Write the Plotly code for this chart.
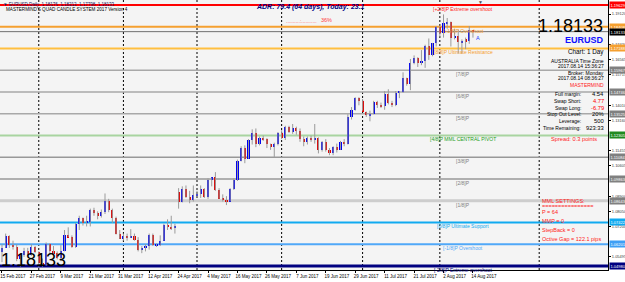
import plotly.graph_objects as go

# ---------------- data ----------------
date_labels = ["15 Feb 2017", "27 Feb 2017", "9 Mar 2017", "21 Mar 2017", "31 Mar 2017",
               "12 Apr 2017", "24 Apr 2017", "4 May 2017", "16 May 2017", "26 May 2017",
               "7 Jun 2017", "19 Jun 2017", "29 Jun 2017", "11 Jul 2017", "21 Jul 2017",
               "2 Aug 2017", "14 Aug 2017"]
label_bars = [0, 8, 16, 24, 32, 40, 48, 56, 64, 72, 80, 88, 96, 104, 112, 120, 128]
month_separator_bars = [10, 33, 53, 76, 98, 119, 146]

open_ = [1.0575, 1.0600, 1.0665, 1.0615, 1.0605, 1.0540, 1.0560, 1.0585, 1.0560, 1.0605,
         1.0575, 1.0515, 1.0505, 1.0620, 1.0580, 1.0570, 1.0545, 1.0580, 1.0670, 1.0660,
         1.0605, 1.0735, 1.0765, 1.0740, 1.0745, 1.0810, 1.0795, 1.0780, 1.0800, 1.0865,
         1.0815, 1.0765, 1.0680, 1.0650, 1.0665, 1.0660, 1.0665, 1.0645, 1.0590, 1.0600,
         1.0610, 1.0670, 1.0615, 1.0615, 1.0640, 1.0730, 1.0715, 1.0710, 1.0915, 1.0860,
         1.0930, 1.0885, 1.0870, 1.0895, 1.0900, 1.0930, 1.0885, 1.0980, 1.0995, 1.0925,
         1.0875, 1.0870, 1.0860, 1.0930, 1.0980, 1.1085, 1.1160, 1.1100, 1.1205, 1.1245,
         1.1185, 1.1215, 1.1210, 1.1180, 1.1165, 1.1185, 1.1245, 1.1215, 1.1280, 1.1250,
         1.1275, 1.1255, 1.1210, 1.1195, 1.1215, 1.1210, 1.1215, 1.1150, 1.1195, 1.1150,
         1.1135, 1.1165, 1.1150, 1.1195, 1.1180, 1.1335, 1.1375, 1.1440, 1.1425, 1.1360,
         1.1345, 1.1350, 1.1420, 1.1400, 1.1395, 1.1465, 1.1415, 1.1400, 1.1470, 1.1475,
         1.1555, 1.1520, 1.1635, 1.1665, 1.1640, 1.1650, 1.1730, 1.1680, 1.1750, 1.1840,
         1.1805, 1.1860, 1.1865, 1.1775, 1.1790, 1.1755, 1.1770, 1.1760, 1.18176]
high = [1.0620, 1.0680, 1.0670, 1.0640, 1.0620, 1.0565, 1.0600, 1.0600, 1.0620, 1.0610,
        1.0580, 1.0540, 1.0630, 1.0625, 1.0610, 1.0580, 1.0615, 1.0700, 1.0715, 1.0670,
        1.0740, 1.0780, 1.0770, 1.0780, 1.0820, 1.0825, 1.0805, 1.0815, 1.0905, 1.0875,
        1.0820, 1.0775, 1.0700, 1.0680, 1.0680, 1.0705, 1.0680, 1.0660, 1.0610, 1.0620,
        1.0680, 1.0680, 1.0625, 1.0670, 1.0735, 1.0760, 1.0780, 1.0735, 1.0935, 1.0945,
        1.0950, 1.0920, 1.0950, 1.0920, 1.0950, 1.0935, 1.0990, 1.0995, 1.1025, 1.0935,
        1.0900, 1.0890, 1.0935, 1.0990, 1.1095, 1.1170, 1.1175, 1.1210, 1.1265, 1.1270,
        1.1225, 1.1230, 1.1215, 1.1185, 1.1190, 1.1250, 1.1260, 1.1285, 1.1285, 1.1295,
        1.1280, 1.1270, 1.1225, 1.1225, 1.1230, 1.1295, 1.1220, 1.1200, 1.1210, 1.1160,
        1.1170, 1.1185, 1.1200, 1.1210, 1.1350, 1.1390, 1.1445, 1.1445, 1.1435, 1.1365,
        1.1370, 1.1425, 1.1425, 1.1415, 1.1480, 1.1490, 1.1425, 1.1480, 1.1480, 1.1585,
        1.1555, 1.1660, 1.1680, 1.1670, 1.1710, 1.1740, 1.1775, 1.1750, 1.1845, 1.1845,
        1.1910, 1.1890, 1.1870, 1.1830, 1.1825, 1.1770, 1.1780, 1.1845, 1.18212]
low = [1.0520, 1.0600, 1.0600, 1.0590, 1.0525, 1.0495, 1.0550, 1.0555, 1.0555, 1.0570,
       1.0495, 1.0495, 1.0500, 1.0560, 1.0565, 1.0535, 1.0525, 1.0580, 1.0660, 1.0600,
       1.0600, 1.0700, 1.0725, 1.0720, 1.0720, 1.0780, 1.0760, 1.0770, 1.0790, 1.0800,
       1.0740, 1.0675, 1.0650, 1.0640, 1.0640, 1.0655, 1.0640, 1.0580, 1.0570, 1.0580,
       1.0590, 1.0610, 1.0605, 1.0610, 1.0640, 1.0700, 1.0700, 1.0680, 1.0820, 1.0855,
       1.0880, 1.0850, 1.0860, 1.0885, 1.0880, 1.0880, 1.0875, 1.0945, 1.0920, 1.0875,
       1.0860, 1.0840, 1.0860, 1.0925, 1.0975, 1.1085, 1.1075, 1.1100, 1.1180, 1.1165,
       1.1175, 1.1200, 1.1160, 1.1150, 1.1110, 1.1175, 1.1210, 1.1205, 1.1245, 1.1240,
       1.1235, 1.1195, 1.1170, 1.1180, 1.1195, 1.1185, 1.1130, 1.1140, 1.1140, 1.1120,
       1.1120, 1.1135, 1.1150, 1.1170, 1.1180, 1.1320, 1.1370, 1.1400, 1.1370, 1.1335,
       1.1310, 1.1350, 1.1385, 1.1385, 1.1375, 1.1405, 1.1390, 1.1395, 1.1440, 1.1470,
       1.1510, 1.1485, 1.1630, 1.1615, 1.1625, 1.1610, 1.1655, 1.1675, 1.1730, 1.1785,
       1.1780, 1.1830, 1.1730, 1.1770, 1.1690, 1.1690, 1.1715, 1.1745, 1.17798]
close = [1.0600, 1.0665, 1.0615, 1.0605, 1.0540, 1.0560, 1.0585, 1.0560, 1.0605, 1.0575,
         1.0515, 1.0505, 1.0620, 1.0580, 1.0570, 1.0545, 1.0580, 1.0670, 1.0660, 1.0605,
         1.0735, 1.0765, 1.0740, 1.0745, 1.0810, 1.0795, 1.0780, 1.0800, 1.0865, 1.0815,
         1.0765, 1.0680, 1.0650, 1.0665, 1.0660, 1.0665, 1.0645, 1.0590, 1.0600, 1.0610,
         1.0670, 1.0615, 1.0615, 1.0640, 1.0730, 1.0715, 1.0710, 1.0725, 1.0860, 1.0930,
         1.0885, 1.0870, 1.0895, 1.0900, 1.0930, 1.0885, 1.0980, 1.0995, 1.0925, 1.0875,
         1.0870, 1.0860, 1.0930, 1.0980, 1.1085, 1.1160, 1.1100, 1.1205, 1.1245, 1.1185,
         1.1215, 1.1210, 1.1180, 1.1165, 1.1185, 1.1245, 1.1215, 1.1280, 1.1250, 1.1275,
         1.1255, 1.1210, 1.1195, 1.1215, 1.1210, 1.1215, 1.1150, 1.1195, 1.1150, 1.1135,
         1.1165, 1.1150, 1.1195, 1.1180, 1.1335, 1.1375, 1.1440, 1.1425, 1.1360, 1.1345,
         1.1350, 1.1420, 1.1400, 1.1395, 1.1465, 1.1415, 1.1400, 1.1470, 1.1475, 1.1555,
         1.1520, 1.1635, 1.1665, 1.1640, 1.1650, 1.1730, 1.1680, 1.1750, 1.1840, 1.1805,
         1.1860, 1.1865, 1.1775, 1.1790, 1.1755, 1.1760, 1.1760, 1.1820, 1.18133]

current_price = 1.18133

mml_names = ["[+2/8]P Extreme overshoot", "[+1/8]P Overshoot", "[8/8]P Ultimate Resistance",
             "[7/8]P", "[6/8]P", "[5/8]P", "[4/8]P MML CENTRAL PIVOT", "[3/8]P", "[2/8]P",
             "[1/8]P", "[0/8]P Ultimate Support", "[-1/8]P Overshoot", "[-2/8]P Extreme overshoot"]
mml_levels = [1.19629, 1.18408, 1.17188, 1.15967, 1.14746, 1.13525, 1.12305, 1.11084,
              1.09863, 1.08643, 1.07422, 1.06201, 1.04980]

y_tick_values = [1.19120, 1.17420, 1.16565, 1.15715, 1.14010, 1.13160,
                 1.11455, 1.10605, 1.08900, 1.08050, 1.07200,
                 1.05495, 1.04645]

info_labels = ["Full margin:", "Swap Short:", "Swap Long:", "Stop Out Level:", "Leverage:", "Time Remaining:"]
info_values = ["4.54", "4.77", "-6.79", "20%", "500", "923:33"]

mml_settings = ["MML SETTINGS:", "================", "P = 64", "MMP = 0", "StepBack = 0",
                "Octive Gap = 122.1 pips"]

# ---------------- styles ----------------
mml_line_colors = ["#ff0000", "#f5a030", "#ffbf40", "#a8a8a8", "#a8a8a8", "#a8a8a8", "#a8d4a0",
                   "#989898", "#989898", "#cdcdcd", "#10aaf0", "#50a8f8", "#000080"]
mml_line_widths = [2, 2, 2, 1.3, 1.3, 1.3, 2, 1.3, 1.3, 3, 2, 2, 3]
mml_text_colors = ["#ff2020", "#f5a030", "#f5a030", "#808080", "#808080", "#808080", "#22a022",
                   "#808080", "#808080", "#808080", "#10aaf0", "#50a8f8", "#000080"]
mml_box_colors = ["#ff0000", "#f5a030", "#f5a030", "#808080", "#808080", "#808080", "#208a20",
                  "#808080", "#808080", "#808080", "#10aaf0", "#3f9ff5", "#000080"]

FONT = "Liberation Sans, Arial, sans-serif"
W, H = 625, 282
PW, PH = 608, 270  # plot area size in px

bars = list(range(len(close)))

fig = go.Figure()

# wicks
wx, wy = [], []
for i in bars:
    wx += [i, i, None]
    wy += [low[i], high[i], None]
fig.add_trace(go.Scatter(x=wx, y=wy, mode="lines", line=dict(color="#9a9a9a", width=1),
                         hoverinfo="skip", showlegend=False))

# bodies
body_base = [min(o, c) for o, c in zip(open_, close)]
body_h = [max(abs(c - o), 0.00012) for o, c in zip(open_, close)]
body_col = ["#0000f0" if c >= o else "#e00000" for o, c in zip(open_, close)]
fig.add_trace(go.Bar(x=bars, y=body_h, base=body_base, width=0.58,
                     marker=dict(color=body_col, line=dict(width=0)),
                     hoverinfo="skip", showlegend=False))

shapes = []
for b in month_separator_bars:
    shapes.append(dict(type="line", xref="x", yref="paper", x0=b, x1=b, y0=0, y1=1,
                       line=dict(color="#000000", width=1, dash="2px,2px"), layer="below"))
for lvl, col, wdt in zip(mml_levels, mml_line_colors, mml_line_widths):
    shapes.append(dict(type="line", xref="paper", yref="y", x0=0, x1=1, y0=lvl, y1=lvl,
                       line=dict(color=col, width=wdt), layer="below"))
shapes.append(dict(type="line", xref="paper", yref="y", x0=0, x1=1, y0=current_price,
                   y1=current_price, line=dict(color="#707070", width=1), layer="below"))

anns = []


def txt(text, px, py, size, color, xanchor="left", family=FONT, bold=False, italic=False):
    t = text
    if bold:
        t = "<b>" + t + "</b>"
    if italic:
        t = "<i>" + t + "</i>"
    anns.append(dict(x=px / PW, y=1 - py / PH, xref="paper", yref="paper", text=t,
                     showarrow=False, xanchor=xanchor, yanchor="middle", borderpad=0,
                     font=dict(family=family, size=size, color=color)))


for name, lvl, col in zip(mml_names, mml_levels, mml_text_colors):
    anns.append(dict(x=463 / PW, y=lvl, xref="paper", yref="y", text=name, showarrow=False,
                     xanchor="center", yanchor="middle", yshift=-4, borderpad=0,
                     font=dict(family=FONT, size=5, color=col)))
for lvl, col in zip(mml_levels, mml_box_colors):
    anns.append(dict(x=1.0, y=lvl, xref="paper", yref="y", text=f"{lvl:.5f}", showarrow=False,
                     xanchor="left", yanchor="middle", bgcolor=col, borderpad=0.5, xshift=1,
                     font=dict(family=FONT, size=4, color="#ffffff")))
anns.append(dict(x=1.0, y=current_price, xref="paper", yref="y", text=f"{current_price:.5f}",
                 showarrow=False, xanchor="left", yanchor="middle", bgcolor="#000000",
                 borderpad=0.5, xshift=1, font=dict(family=FONT, size=4, color="#ffffff")))

txt("▼ EURUSD,Daily  1.18176  1.18212  1.17798  1.18133", 2, 4, 4.5, "#202060")
txt("MASTERMIND'S QUAD CANDLE SYSTEM 2017 Version 4", 5, 10, 4.6, "#000000")
txt("ADR: 79.4 (64 days), Today: 23.1", 255, 7, 7, "#000080", bold=True, italic=True)
txt("..........:...........", 285, 21, 5, "#ff4040")
txt("36%", 320, 20, 5.5, "#ff4040")
txt("▼", 480, 2, 5, "#505050", xanchor="center")
txt("A", 478, 38, 5.5, "#2040ff", xanchor="center")

txt("1.18133", 604, 26, 18, "#000000", xanchor="right")
txt("EURUSD", 605, 40, 9, "#1010ff", xanchor="right", bold=True)
txt("Chart: 1 Day", 605, 52, 6.3, "#000000", xanchor="right")
txt("AUSTRALIA Time Zone", 605, 61, 5, "#000000", xanchor="right")
txt("2017.08.14 15:36:27", 605, 66, 5, "#000000", xanchor="right")
txt("Broker: Monday", 605, 73, 5, "#000000", xanchor="right")
txt("2017.08.14 08:36:27", 605, 78, 5, "#000000", xanchor="right")
txt("MASTERMIND", 605, 85, 5, "#ff2020", xanchor="right")
info_value_colors = ["#000000", "#ff0000", "#ff0000", "#000000", "#000000", "#000000"]
for k, (lab, val) in enumerate(zip(info_labels, info_values)):
    yy = 94 + k * 6.8
    txt(lab, 582, yy, 5, "#000000", xanchor="right")
    txt(val, 605, yy, 5.8, info_value_colors[k], xanchor="right")
txt("Spread: 0.3 points", 598, 139, 5.7, "#ff2020", xanchor="right")

mml_y = [201, 206, 212, 221, 230, 239]
for s, yy in zip(mml_settings, mml_y):
    txt(s, 541, yy, 5.5, "#ff2020")

txt("1.18133", 0, 260, 18, "#000000")

fig.update_layout(
    width=W, height=H, autosize=False,
    margin=dict(l=0, r=W - PW, t=0, b=H - PH, pad=0),
    paper_bgcolor="#ffffff", plot_bgcolor="#f4f4f4",
    showlegend=False, hovermode=False, bargap=0,
    shapes=shapes, annotations=anns,
    xaxis=dict(range=[-0.54, 164.7], tickmode="array", tickvals=label_bars, ticktext=date_labels,
               ticks="outside", ticklen=2, tickcolor="#000000", tickfont=dict(family=FONT, size=4.5, color="#000000"),
               ticklabelshift=11, ticklabelstandoff=0,
               showgrid=False, zeroline=False, showline=True, linecolor="#000000", linewidth=1,
               fixedrange=True, automargin=False),
    yaxis=dict(range=[1.047555, 1.199095], side="right", tickmode="array", tickvals=y_tick_values,
               ticktext=[f"{v:.5f}" for v in y_tick_values], ticks="outside", ticklen=2,
               tickcolor="#000000", tickfont=dict(family=FONT, size=4, color="#404040"),
               showgrid=False, zeroline=False, showline=True, linecolor="#000000", linewidth=1,
               fixedrange=True, automargin=False),
)

fig.write_html("out.html")
